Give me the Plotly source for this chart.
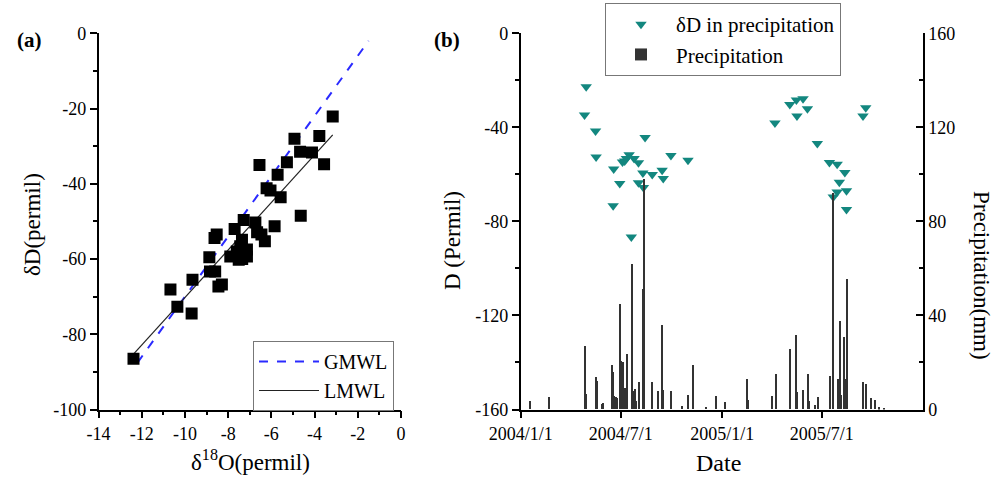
import plotly.graph_objects as go

# ---------------- Panel (a) data ----------------
d18o = [-12.38, -10.67, -10.35, -9.69, -9.65, -8.87, -8.84, -8.60, -8.63, -8.53,
        -8.45, -8.29, -7.90, -7.70, -7.51, -7.44, -7.36, -7.28, -7.13, -7.13,
        -6.74, -6.66, -6.55, -6.46, -6.30, -6.22, -6.04, -5.85, -5.71, -5.57,
        -5.28, -4.93, -4.64, -4.67, -4.12, -3.78, -3.56, -3.16, -7.60, -7.35]
dD = [-86.5, -68.1, -72.7, -74.5, -65.5, -59.5, -63.3, -63.3, -54.4, -53.5,
      -67.3, -66.8, -59.3, -52.0, -60.2, -56.6, -54.9, -49.6, -57.5, -59.3,
      -50.3, -52.9, -35.0, -53.5, -55.3, -41.2, -41.8, -51.3, -37.6, -43.6,
      -34.3, -28.0, -48.5, -31.5, -31.7, -27.3, -34.8, -22.1, -58.0, -60.0]

gmwl_x = [-12.2, -1.5]
gmwl_y = [-87.6, -2.0]
lmwl_x = [-12.35, -3.16]
lmwl_y = [-85.1, -27.0]

xa_ticks = [-14, -12, -10, -8, -6, -4, -2, 0]
xa_text = ["-14", "-12", "-10", "-8", "-6", "-4", "-2", "0"]
ya_ticks = [-100, -80, -60, -40, -20, 0]
ya_text = ["-100", "-80", "-60", "-40", "-20", "0"]

# ---------------- Panel (b) data ----------------
iso_dates = ["2004-04-29", "2004-04-26", "2004-05-16", "2004-05-17", "2004-06-18",
             "2004-06-17", "2004-06-29", "2004-07-04", "2004-07-08", "2004-07-11",
             "2004-07-16", "2004-07-25", "2004-08-02", "2004-08-10", "2004-08-02",
             "2004-08-11", "2004-08-14", "2004-08-27", "2004-09-14", "2004-09-16",
             "2004-09-30", "2004-10-31", "2004-07-20",
             "2005-04-07", "2005-05-04", "2005-05-16", "2005-05-28", "2005-05-17",
             "2005-06-05", "2005-06-23", "2005-07-15", "2005-07-29", "2005-08-12",
             "2005-08-02", "2005-07-22", "2005-07-29", "2005-08-15", "2005-08-15",
             "2005-09-14", "2005-09-19"]
iso_dD = [-22.7, -34.8, -41.5, -52.6, -57.7,
          -73.3, -63.9, -54.7, -54.3, -53.3,
          -51.7, -53.3, -55.1, -59.4, -63.6,
          -65.6, -44.3, -60.1, -58.2, -61.8,
          -52.0, -54.0, -86.6,
          -38.1, -30.3, -28.4, -27.8, -35.2,
          -32.1, -46.9, -55.0, -55.7, -59.2,
          -63.4, -69.6, -67.5, -67.0, -74.9,
          -35.2, -31.7]

prcp_dates = ["2004-01-18", "2004-02-21", "2004-04-26", "2004-04-29", "2004-05-17",
              "2004-05-18", "2004-05-27", "2004-05-29", "2004-06-15", "2004-06-17",
              "2004-06-18", "2004-06-22", "2004-06-24", "2004-06-29", "2004-07-01",
              "2004-07-04", "2004-07-07", "2004-07-10", "2004-07-11", "2004-07-20",
              "2004-07-22", "2004-07-26", "2004-07-28", "2004-08-03", "2004-08-10",
              "2004-08-11", "2004-08-12", "2004-08-27", "2004-09-06", "2004-09-14",
              "2004-09-16", "2004-09-30", "2004-10-20", "2004-10-31", "2004-11-09",
              "2004-12-02", "2004-12-21", "2005-01-05", "2005-02-14", "2005-02-16",
              "2005-04-01", "2005-04-08", "2005-05-04", "2005-05-15", "2005-05-17",
              "2005-05-28", "2005-06-05", "2005-06-07", "2005-06-18", "2005-06-23",
              "2005-07-16", "2005-07-22", "2005-07-30", "2005-08-02", "2005-08-05",
              "2005-08-10", "2005-08-14", "2005-08-16", "2005-09-14", "2005-09-19",
              "2005-09-28", "2005-10-05", "2005-10-13", "2005-10-21"]
prcp_mm = [3.3, 5.0, 27.0, 6.6, 13.5,
           11.8, 2.3, 2.6, 19.0, 16.0,
           5.5, 5.0, 4.7, 44.7, 20.4,
           20.0, 9.0, 9.0, 23.6, 61.8,
           7.6, 8.6, 3.3, 11.4, 51.1,
           98.0, 27.5, 11.4, 7.6, 36.0,
           8.3, 7.9, 1.5, 5.9, 18.8,
           1.0, 5.5, 2.9, 13.0, 4.0,
           5.5, 15.1, 25.6, 31.6, 7.2,
           8.3, 15.1, 3.3, 1.9, 5.2,
           14.3, 92.0, 13.0, 37.4, 5.9,
           30.7, 13.0, 55.4, 11.4, 10.7,
           4.7, 3.8, 0.8, 0.5]

xb_ticks = ["2004-01-01", "2004-07-01", "2005-01-01", "2005-07-01"]
xb_text = ["2004/1/1", "2004/7/1", "2005/1/1", "2005/7/1"]
yb_ticks = [-160, -120, -80, -40, 0]
yb_text = ["-160", "-120", "-80", "-40", "0"]
yr_ticks = [0, 40, 80, 120, 160]
yr_text = ["0", "40", "80", "120", "160"]

FONT = "Liberation Serif"
TEAL = "#13877f"
TICKSIZE = 18

fig = go.Figure()

fig.add_trace(go.Scatter(x=gmwl_x, y=gmwl_y, mode="lines", name="GMWL",
                         line=dict(color="#2a2aff", width=2, dash="dash"),
                         xaxis="x", yaxis="y", legend="legend"))
fig.add_trace(go.Scatter(x=lmwl_x, y=lmwl_y, mode="lines", name="LMWL",
                         line=dict(color="#222222", width=1.2),
                         xaxis="x", yaxis="y", legend="legend"))
fig.add_trace(go.Scatter(x=d18o, y=dD, mode="markers", showlegend=False,
                         marker=dict(symbol="square", size=12, color="black"),
                         xaxis="x", yaxis="y"))

fig.add_trace(go.Scatter(x=iso_dates, y=iso_dD, mode="markers",
                         name="δD in precipitation",
                         marker=dict(symbol="triangle-down", size=10, color=TEAL),
                         xaxis="x2", yaxis="y2", legend="legend2"))
fig.add_trace(go.Bar(x=prcp_dates, y=prcp_mm, name="Precipitation",
                     width=2.2 * 86400000,
                     marker=dict(color="#333333", line=dict(width=0)),
                     xaxis="x2", yaxis="y3", legend="legend2"))

y_dom = [1 - 409.5 / 479, 1 - 33.3 / 479]
common = dict(showline=True, linecolor="black", linewidth=1.5, showgrid=False,
              zeroline=False, ticks="outside", ticklen=7, tickwidth=1.5,
              automargin=False,
              tickcolor="black", tickfont=dict(family=FONT, size=TICKSIZE, color="black"))

fig.update_layout(
    template="none",
    width=1000, height=479,
    margin=dict(l=0, r=0, t=0, b=0, autoexpand=False),
    paper_bgcolor="white", plot_bgcolor="white",
    font=dict(family=FONT, color="black"),
    bargap=0,
    xaxis=dict(domain=[0.0985, 0.401], range=[-14, 0], anchor="y",
               tickvals=xa_ticks, ticktext=xa_text,
               minor=dict(dtick=1, ticklen=4, tickwidth=1.5, tickcolor="black",
                          ticks="outside", tick0=0, showgrid=False),
               **common),
    yaxis=dict(domain=y_dom, range=[-100, 0], anchor="x",
               tickvals=ya_ticks, ticktext=ya_text,
               minor=dict(dtick=10, ticklen=4, tickwidth=1.5, tickcolor="black",
                          ticks="outside", tick0=0, showgrid=False),
               **common),
    xaxis2=dict(domain=[0.5207, 0.923], range=["2004-01-01", "2006-01-01"],
                type="date", anchor="y2",
                tickvals=xb_ticks, ticktext=xb_text, **common),
    yaxis2=dict(domain=y_dom, range=[-160, 0], anchor="x2",
                tickvals=yb_ticks, ticktext=yb_text,
                minor=dict(dtick=20, ticklen=4, tickwidth=1.5, tickcolor="black",
                           ticks="outside", tick0=0, showgrid=False),
                **common),
    yaxis3=dict(range=[0, 160], overlaying="y2", side="right", anchor="x2",
                showline=True, linecolor="black", linewidth=1.5, showgrid=False,
                zeroline=False, ticks="inside", ticklen=7, tickwidth=1.5,
                automargin=False,
                tickcolor="black", tickfont=dict(family=FONT, size=TICKSIZE, color="black"),
                tickvals=yr_ticks, ticktext=yr_text,
                minor=dict(dtick=20, ticklen=4, tickwidth=1.5, tickcolor="black",
                           ticks="inside", tick0=0, showgrid=False)),
    legend=dict(x=0.253, y=1 - 341 / 479, xanchor="left", yanchor="top",
                bgcolor="white", bordercolor="#777777", borderwidth=1,
                font=dict(family=FONT, size=20, color="black"),
                itemwidth=60, tracegroupgap=0),
    legend2=dict(x=0.605, y=1 - 3 / 479, xanchor="left", yanchor="top",
                 bgcolor="white", bordercolor="#777777", borderwidth=1,
                 font=dict(family=FONT, size=21, color="black"),
                 itemwidth=60, tracegroupgap=0),
)

ann = [
    dict(text="<b>(a)</b>", x=29 / 1000, y=1 - 40 / 479, font=dict(size=21)),
    dict(text="<b>(b)</b>", x=447 / 1000, y=1 - 40 / 479, font=dict(size=21)),
    dict(text="δD(permil)", x=32 / 1000, y=1 - 225 / 479, textangle=-90,
         font=dict(size=23)),
    dict(text="δ<sup>18</sup>O(permil)", x=250 / 1000, y=1 - 460 / 479,
         font=dict(size=23)),
    dict(text="D (Permil)", x=452 / 1000, y=1 - 241 / 479, textangle=-90,
         font=dict(size=23)),
    dict(text="Precipitation(mm)", x=982 / 1000, y=1 - 275 / 479, textangle=90,
         font=dict(size=23)),
    dict(text="Date", x=718 / 1000, y=1 - 463 / 479, font=dict(size=24)),
]
for a in ann:
    a.update(xref="paper", yref="paper", showarrow=False,
             xanchor="center", yanchor="middle")
    a["font"] = dict(family=FONT, color="black", **a["font"])
fig.update_layout(annotations=ann)

fig.write_html("out.html",
               config={"displayModeBar": False},
               post_script="document.body.style.margin='0';"
                           "document.body.style.overflow='hidden';")
